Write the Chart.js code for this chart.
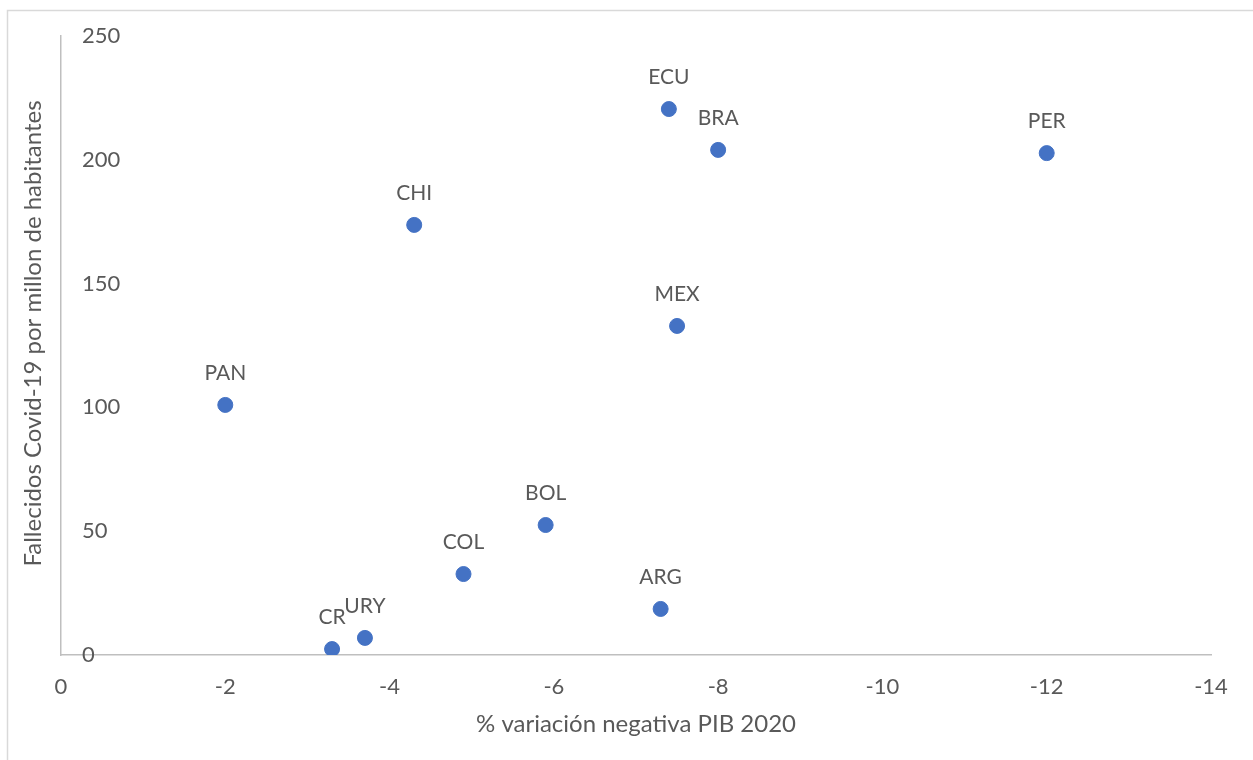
<!DOCTYPE html>
<html>
<head>
<meta charset="utf-8">
<script src="https://cdn.jsdelivr.net/npm/chart.js@4.4.0/dist/chart.umd.min.js"></script>
<style>
  html, body { margin: 0; padding: 0; background: #ffffff; }
  #wrap { width: 1253px; height: 760px; }
</style>
</head>
<body>
<div id="wrap"><canvas id="myChart" width="1253" height="760"></canvas></div>
<script>
// country codes and values
const countries = ['PAN', 'CR', 'URY', 'CHI', 'COL', 'BOL', 'ARG', 'ECU', 'MEX', 'BRA', 'PER'];
const gdpChange = [-2.0, -3.3, -3.7, -4.3, -4.9, -5.9, -7.3, -7.4, -7.5, -8.0, -12.0];
const deathsPerMillion = [101, 2.4, 6.9, 173.7, 32.7, 52.5, 18.6, 220.5, 132.9, 204, 202.7];

const xTicks = [0, -2, -4, -6, -8, -10, -12, -14];
const yTicks = [0, 50, 100, 150, 200, 250];

const yTitle = 'Fallecidos Covid-19 por millon de habitantes';
const xTitle = '% variación negativa PIB 2020';

const textColor = '#595959';
const fontFamily = 'Lato, "Open Sans", sans-serif';

// frame around the chart, like the spreadsheet export
const framePlugin = {
  id: 'frame',
  beforeDraw(chart) {
    const ctx = chart.ctx;
    ctx.save();
    ctx.strokeStyle = '#d9d9d9';
    ctx.lineWidth = 1.5;
    ctx.beginPath();
    ctx.moveTo(7.5, chart.height);
    ctx.lineTo(7.5, 10.5);
    ctx.lineTo(chart.width, 10.5);
    ctx.stroke();
    ctx.restore();
  }
};

// y title sits a little above the middle of the plot in the original
const yTitlePlugin = {
  id: 'yTitle',
  afterDraw(chart) {
    const ctx = chart.ctx;
    const area = chart.chartArea;
    const ys = chart.scales.y;
    ctx.save();
    ctx.translate(ys.left + 33, (area.top + area.bottom) / 2 - 12);
    ctx.rotate(-Math.PI / 2);
    ctx.fillStyle = textColor;
    ctx.font = '24px ' + fontFamily;
    ctx.textAlign = 'center';
    ctx.textBaseline = 'middle';
    ctx.fillText(yTitle, 0, 0);
    ctx.restore();
  }
};

// country label above each point
const pointLabels = {
  id: 'pointLabels',
  afterDatasetsDraw(chart) {
    const ctx = chart.ctx;
    const meta = chart.getDatasetMeta(0);
    ctx.save();
    ctx.fillStyle = textColor;
    ctx.font = '21px ' + fontFamily;
    ctx.textAlign = 'center';
    ctx.textBaseline = 'middle';
    meta.data.forEach((pt, i) => {
      ctx.fillText(countries[i], pt.x, pt.y - 32);
    });
    ctx.restore();
  }
};

const points = gdpChange.map((x, i) => ({ x: x, y: deathsPerMillion[i] }));

const ctx = document.getElementById('myChart');
const myChart = new Chart(ctx, {
  type: 'scatter',
  data: {
    datasets: [{
      label: 'Fallecidos',
      data: points,
      backgroundColor: '#4472C4',
      borderColor: '#4472C4',
      pointRadius: 7.5,
      pointHoverRadius: 7.5
    }]
  },
  options: {
    responsive: false,
    animation: false,
    devicePixelRatio: 1,
    layout: { padding: { top: 36, right: 42, left: 0, bottom: 0 } },
    scales: {
      x: {
        type: 'linear',
        reverse: true,
        min: -14,
        max: 0,
        afterBuildTicks(scale) {
          scale.ticks = xTicks.map(v => ({ value: v }));
        },
        afterFit(scale) { scale.height = 105; },
        grid: { display: false, drawTicks: false },
        border: { display: true, color: '#bfbfbf', width: 1.5 },
        ticks: {
          color: textColor,
          padding: 19,
          font: { family: fontFamily, size: 22 }
        },
        title: {
          display: true,
          text: xTitle,
          color: textColor,
          font: { family: fontFamily, size: 24 },
          padding: { top: 0, bottom: 21 }
        }
      },
      y: {
        min: 0,
        max: 250,
        afterBuildTicks(scale) {
          scale.ticks = yTicks.map(v => ({ value: v }));
        },
        afterFit(scale) { scale.width = 61; },
        grid: { display: false, drawTicks: false },
        border: { display: true, color: '#bfbfbf', width: 1.5 },
        ticks: {
          mirror: true,
          color: textColor,
          padding: 21,
          font: { family: fontFamily, size: 22 }
        },
        title: { display: false }
      }
    },
    plugins: {
      legend: { display: false },
      tooltip: { enabled: false }
    }
  },
  plugins: [framePlugin, yTitlePlugin, pointLabels]
});
</script>
</body>
</html>
